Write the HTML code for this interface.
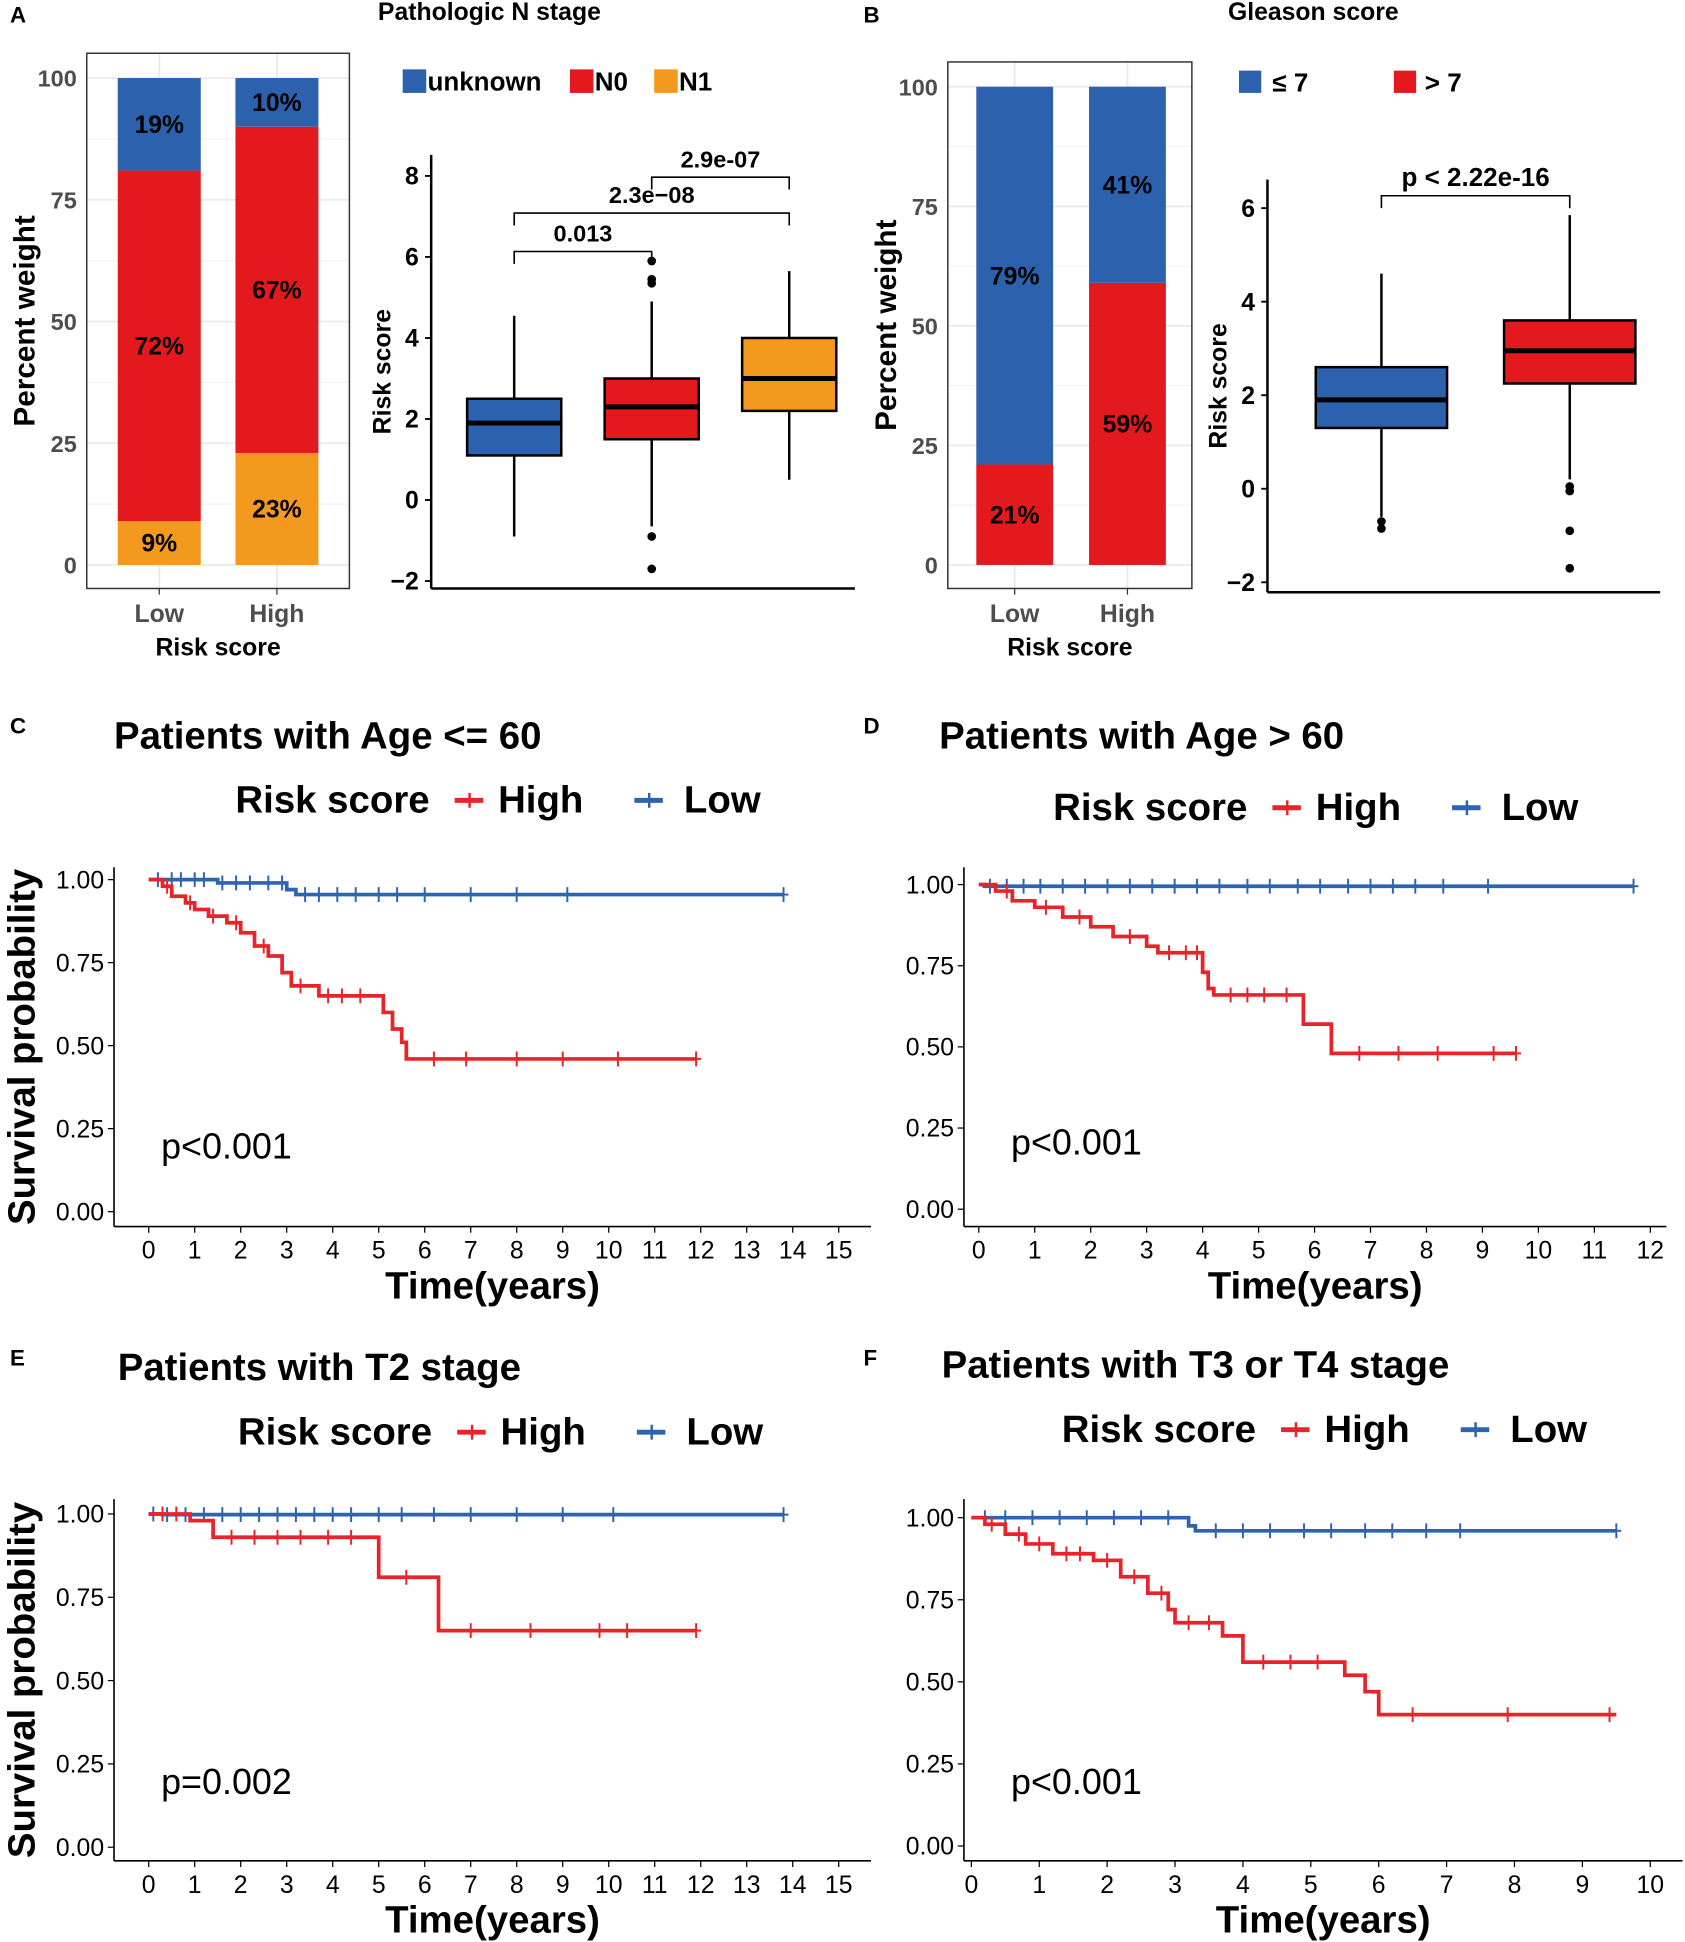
<!DOCTYPE html>
<html><head><meta charset="utf-8">
<style>
html,body{margin:0;padding:0;background:#fff;}
svg{display:block;font-family:"Liberation Sans",sans-serif;}
</style></head>
<body>
<svg id="fig" width="1685" height="1942" viewBox="0 0 1360 1567.5" xmlns="http://www.w3.org/2000/svg">
<g id="root"></g>
</svg>
<script>
// ---------- data ----------
const nStageGroups = ["Low","High"];
const nStageN1 = [9,23];
const nStageN0 = [72,67];
const nStageUnknown = [19,10];

const gleasonGroups = ["Low","High"];
const gleasonHigh = [21,59];
const gleasonLow = [79,41];

const boxA_names = ["unknown","N0","N1"];
const boxA_q1 = [1.1,1.5,2.2];
const boxA_med = [1.9,2.3,3.0];
const boxA_q3 = [2.5,3.0,4.0];
const boxA_lo = [-0.9,-0.65,0.5];
const boxA_hi = [4.55,4.9,5.65];
const boxA_out1 = [5.9,5.45,5.35,-0.9,-1.7];
const boxB_names = ["le7","gt7"];
const boxB_q1 = [1.3,2.25];
const boxB_med = [1.9,2.95];
const boxB_q3 = [2.6,3.6];
const boxB_lo = [-0.6,0.2];
const boxB_hi = [4.6,5.85];
const boxB_out0 = [-0.7,-0.85];
const boxB_out1 = [0.05,-0.05,-0.9,-1.7];

const kmC_highT = [0,0.3,0.5,0.8,1,1.3,1.7,2,2.3,2.6,2.9,3.1,3.7,5.1,5.3,5.5,5.6,11.9];
const kmC_highS = [1,0.98,0.95,0.93,0.91,0.89,0.87,0.84,0.80,0.77,0.72,0.68,0.65,0.60,0.55,0.51,0.46,0.46];
const kmC_lowT = [0,1.5,3.0,3.2,13.8];
const kmC_lowS = [1,0.99,0.97,0.955,0.955];
const kmC_highCens = [0.4,0.9,1.4,1.9,2.5,3.3,3.9,4.2,4.6,6.2,6.9,8,9,10.2,11.9];
const kmC_lowCens = [0.2,0.5,0.7,1.0,1.2,1.6,1.9,2.2,2.6,2.9,3.4,3.7,4.1,4.5,5,5.4,6,7,8,9.1,13.8];

const kmD_highT = [0,0.3,0.6,1,1.5,2,2.4,3,3.2,4,4.1,4.2,5.8,6.3,9.6];
const kmD_highS = [1,0.98,0.95,0.93,0.90,0.87,0.84,0.81,0.79,0.73,0.68,0.66,0.57,0.48,0.48];
const kmD_lowT = [0,0.1,11.7];
const kmD_lowS = [1,0.995,0.995];
const kmD_highCens = [0.5,1.2,1.8,2.7,3.4,3.7,3.9,4.5,4.8,5.1,5.5,6.8,7.5,8.2,9.2,9.6];
const kmD_lowCens = [0.2,0.5,0.8,1.1,1.5,1.9,2.3,2.7,3.1,3.5,3.9,4.3,4.8,5.2,5.7,6.1,6.6,7,7.4,7.8,8.3,9.1,11.7];

const kmE_highT = [0,0.9,1.4,5.0,6.3,11.9];
const kmE_highS = [1,0.98,0.93,0.81,0.65,0.65];
const kmE_lowT = [0,0.3,13.8];
const kmE_lowS = [1,0.998,0.998];
const kmE_highCens = [0.3,0.6,1.8,2.3,2.8,3.3,3.9,4.4,5.6,7,8.3,9.8,10.4,11.9];
const kmE_lowCens = [0.1,0.4,0.8,1.2,1.6,2,2.4,2.8,3.2,3.6,4,4.4,5,5.5,6.2,7,8,9,10.1,13.8];

const kmF_highT = [0,0.2,0.5,0.8,1.2,1.8,2.2,2.6,2.9,3.0,3.7,4.0,5.5,5.8,6.0,9.5];
const kmF_highS = [1,0.98,0.95,0.92,0.89,0.87,0.82,0.77,0.72,0.68,0.64,0.56,0.52,0.47,0.40,0.40];
const kmF_lowT = [0,3.2,3.3,9.5];
const kmF_lowS = [1,0.975,0.96,0.96];
const kmF_highCens = [0.3,0.7,1.0,1.4,1.6,2.0,2.4,2.8,3.2,3.5,4.3,4.7,5.1,6.5,7.9,9.4];
const kmF_lowCens = [0.2,0.5,0.9,1.3,1.7,2.1,2.5,2.9,3.6,4.0,4.4,4.9,5.3,5.8,6.2,6.7,7.2,9.5];

const BLUE="#2b61ad", RED="#e4191d", ORANGE="#f39a1e", KRED="#e8242a", KBLUE="#2e64ae";
const NS="http://www.w3.org/2000/svg";
const root=document.getElementById('root');
function el(tag,attrs,parent,txt){const e=document.createElementNS(NS,tag);for(const k in attrs)e.setAttribute(k,attrs[k]);if(txt!==undefined)e.textContent=txt;(parent||root).appendChild(e);return e;}
function T(x,y,s,size,anchor,fill,name,extra){const t=el('text',Object.assign({x:x,y:y,'font-size':size,'text-anchor':anchor||'start',fill:fill||'#000','font-weight':'bold'},extra||{}),root,s);

return t;}

// panel letters & titles
T(8,18,"A",18,'start','#000','panel-label-a');
T(395,16,"Pathologic N stage",20,'middle','#000','title-n-stage');
T(697,18,"B",18,'start','#000','panel-label-b');
T(1060,16,"Gleason score",20,'middle','#000','title-gleason');
T(8,592,"C",18,'start','#000','panel-label-c');
T(697,592,"D",18,'start','#000','panel-label-d');
T(8,1102,"E",18,'start','#000','panel-label-e');
T(697,1102,"F",18,'start','#000','panel-label-f');

// ---------- stacked bar chart ----------
function stacked(cfg){
  const {x0,x1,y0,y1,yTop,yBot,barX,barW,series,colors,labels,name}=cfg;
  const g=el('g',{});  
  const ys=v=>yBot-(yBot-yTop)*v/100;
  [0,25,50,75,100].forEach(v=>{el('line',{x1:x0,x2:x1,y1:ys(v),y2:ys(v),stroke:'#ebebeb','stroke-width':1.5},g);
    if(v<100)el('line',{x1:x0,x2:x1,y1:ys(v+12.5),y2:ys(v+12.5),stroke:'#f3f3f3','stroke-width':1},g);
    T(x0-8,ys(v)+7,String(v),19,'end','#4d4d4d','y-tick-label');});
  barX.forEach(bx=>el('line',{x1:bx+barW/2,x2:bx+barW/2,y1:y0,y2:y1,stroke:'#ebebeb','stroke-width':1.5},g));
  for(let i=0;i<barX.length;i++){
    let cum=0;
    series.forEach((s,si)=>{
      const r=el('rect',{x:barX[i],y:ys(cum+s[i]),width:barW,height:ys(cum)-ys(cum+s[i]),fill:colors[si]},g);
      
      
      T(barX[i]+barW/2,(ys(cum)+ys(cum+s[i]))/2+7,s[i]+"%",20,'middle','#000','bar-percent-label');
      cum+=s[i];
    });
    el('line',{x1:barX[i]+barW/2,x2:barX[i]+barW/2,y1:y1,y2:y1+5,stroke:'#333'},g);
    T(barX[i]+barW/2,y1+27,labels[i],20,'middle','#4d4d4d','x-tick-label');
  }
  el('rect',{x:x0,y:y0,width:x1-x0,height:y1-y0,fill:'none',stroke:'#333','stroke-width':1.2},g);
  T((x0+x1)/2,y1+54,"Risk score",20,'middle','#000','x-axis-title');
  T(0,0,"Percent weight",24,'middle','#000','y-axis-title',{transform:`translate(${x0-42},${(y0+y1)/2}) rotate(-90)`});
}
stacked({x0:70,x1:282,y0:43,y1:475,yTop:63,yBot:456,barX:[95,190],barW:67,series:[nStageN1,nStageN0,nStageUnknown],colors:[ORANGE,RED,BLUE],labels:nStageGroups,name:'n-stage-bar-chart'});
stacked({x0:765,x1:962,y0:50,y1:475,yTop:70,yBot:456,barX:[788,879],barW:62,series:[gleasonHigh,gleasonLow],colors:[RED,BLUE],labels:gleasonGroups,name:'gleason-bar-chart'});

// legends
function legSq(x,y,c,label,name){const r=el('rect',{x:x,y:y,width:19,height:19,fill:c});


T(x+20,y+17,label,21,'start','#000',name+'-label');}
legSq(325,56,BLUE,"unknown",'legend-unknown');legSq(460,56,RED,"N0",'legend-n0');legSq(528,56,ORANGE,"N1",'legend-n1');
el('rect',{x:1000,y:57,width:18,height:18,fill:BLUE});T(1027,74,"≤ 7",21,'start','#000','legend-le7');
el('rect',{x:1125,y:57,width:18,height:18,fill:RED});T(1150,74,"> 7",21,'start','#000','legend-gt7');

// ---------- boxplots ----------
function boxplot(cfg){
  const {ax,axTop,axBot,xEnd,vTop,yTopPx,vBot,yBotPx,ticks,centers,w,q1,med,q3,lo,hi,outs,colors,name}=cfg;
  const g=el('g',{});  
  const ys=v=>yBotPx-(yBotPx-yTopPx)*(v-vBot)/(vTop-vBot);
  el('line',{x1:ax,x2:ax,y1:axTop,y2:axBot,stroke:'#000','stroke-width':2},g);
  el('line',{x1:ax,x2:xEnd,y1:axBot,y2:axBot,stroke:'#000','stroke-width':2},g);
  ticks.forEach(v=>{el('line',{x1:ax-5,x2:ax,y1:ys(v),y2:ys(v),stroke:'#000','stroke-width':1.5},g);
    T(ax-10,ys(v)+7,String(v).replace('-','−'),20,'end','#000','y-tick-label');});
  T(0,0,"Risk score",20,'middle','#000','y-axis-title',{transform:`translate(${ax-33},${(axTop+axBot)/2}) rotate(-90)`});
  centers.forEach((c,i)=>{
    el('line',{x1:c,x2:c,y1:ys(hi[i]),y2:ys(lo[i]),stroke:'#000','stroke-width':2},g);
    const r=el('rect',{x:c-w/2,y:ys(q3[i]),width:w,height:ys(q1[i])-ys(q3[i]),fill:colors[i],stroke:'#000','stroke-width':2},g);
    
    
    el('line',{x1:c-w/2,x2:c+w/2,y1:ys(med[i]),y2:ys(med[i]),stroke:'#000','stroke-width':4},g);
    (outs[i]||[]).forEach(o=>el('circle',{cx:c,cy:ys(o),r:3.5,fill:'#000'},g));
  });
  return ys;
}
boxplot({ax:348,axTop:125,axBot:475,xEnd:690,vTop:8,yTopPx:142,vBot:-2,yBotPx:469,ticks:[-2,0,2,4,6,8],centers:[415,526,637],w:76,q1:boxA_q1,med:boxA_med,q3:boxA_q3,lo:boxA_lo,hi:boxA_hi,outs:[[],boxA_out1,[]],colors:[BLUE,RED,ORANGE],name:'n-stage-boxplot'});
boxplot({ax:1023,axTop:145,axBot:478,xEnd:1340,vTop:6,yTopPx:168,vBot:-2,yBotPx:470,ticks:[-2,0,2,4,6],centers:[1115,1267],w:106,q1:boxB_q1,med:boxB_med,q3:boxB_q3,lo:boxB_lo,hi:boxB_hi,outs:[boxB_out0,boxB_out1],colors:[BLUE,RED],name:'gleason-boxplot'});
function bracket(xa,xb,y,label,fs){el('path',{d:`M${xa},${y+10}V${y}H${xb}V${y+10}`,fill:'none',stroke:'#000','stroke-width':1.3});
T((xa+xb)/2,y-8,label,fs||19,'middle','#000','p-value-bracket-label');}
bracket(415,526,203,"0.013");bracket(415,637,172,"2.3e−08");bracket(526,637,143,"2.9e-07");
bracket(1115,1267,158,"p < 2.22e-16",21);

// ---------- KM plots ----------
function km(cfg){
  const {ax,axTop,axBot,xEnd,x0px,pxPerYear,maxTick,y1px,y0px,title,titleX,titleY,legY,legX,pText,pY,high,low,name,yTitle}=cfg;
  const g=el('g',{});  
  const xs=t=>x0px+t*pxPerYear, ys=s=>y0px-(y0px-y1px)*s;
  el('line',{x1:ax,x2:ax,y1:axTop,y2:axBot,stroke:'#000','stroke-width':1.3},g);
  el('line',{x1:ax,x2:xEnd,y1:axBot,y2:axBot,stroke:'#000','stroke-width':1.3},g);
  [0,0.25,0.5,0.75,1].forEach(v=>{el('line',{x1:ax-5,x2:ax,y1:ys(v),y2:ys(v),stroke:'#000'},g);
    T(ax-8,ys(v)+7,v.toFixed(2),20,'end','#000','y-tick-label',{'font-weight':'normal'});});
  for(let t=0;t<=maxTick;t++){el('line',{x1:xs(t),x2:xs(t),y1:axBot,y2:axBot+5,stroke:'#000'},g);
    T(xs(t),axBot+26,String(t),20,'middle','#000','x-tick-label',{'font-weight':'normal'});}
  T((ax+xEnd)/2,axBot+58,"Time(years)",31,'middle','#000','x-axis-title');
  if(yTitle)T(0,0,"Survival probability",31,'middle','#000','y-axis-title',{transform:`translate(${ax-64},${(axTop+axBot)/2}) rotate(-90)`});
  T(titleX,titleY,title,31,'start','#000','plot-title');
  T(legX,legY,"Risk score",31,'start','#000','legend-title');
  el('line',{x1:legX+177,x2:legX+200,y1:legY-10,y2:legY-10,stroke:KRED,'stroke-width':4});
  el('line',{x1:legX+189,x2:legX+189,y1:legY-16,y2:legY-4,stroke:KRED,'stroke-width':2});
  T(legX+212,legY,"High",31,'start','#000','legend-high');
  el('line',{x1:legX+322,x2:legX+345,y1:legY-10,y2:legY-10,stroke:KBLUE,'stroke-width':4});
  el('line',{x1:legX+334,x2:legX+334,y1:legY-16,y2:legY-4,stroke:KBLUE,'stroke-width':2});
  T(legX+362,legY,"Low",31,'start','#000','legend-low');
  T(ax+38,pY,pText,29,'start','#000','p-value',{'font-weight':'normal'});
  [[low,KBLUE,'low-risk-curve'],[high,KRED,'high-risk-curve']].forEach(([d,c,nm])=>{
    let p=`M${xs(d.t[0])},${ys(d.s[0])}`;
    for(let i=1;i<d.t.length;i++){p+=`H${xs(d.t[i])}V${ys(d.s[i])}`;}
    const path=el('path',{d:p,fill:'none',stroke:c,'stroke-width':3},g);
    
    
    d.c.forEach(ct=>{let s=d.s[0];for(let i=0;i<d.t.length;i++){if(d.t[i]<=ct)s=d.s[i];}
      el('line',{x1:xs(ct),x2:xs(ct),y1:ys(s)-6,y2:ys(s)+6,stroke:c,'stroke-width':1.6},g);
      el('line',{x1:xs(ct)-4,x2:xs(ct)+4,y1:ys(s),y2:ys(s),stroke:c,'stroke-width':1.6},g);});
  });
}
km({ax:92,axTop:700,axBot:990,xEnd:703,x0px:120,pxPerYear:37.13,maxTick:15,y1px:710,y0px:978,title:"Patients with Age <= 60",titleX:92,titleY:604,legY:656,legX:190,pText:"p<0.001",pY:935,yTitle:true,
  high:{t:kmC_highT,s:kmC_highS,c:kmC_highCens},low:{t:kmC_lowT,s:kmC_lowS,c:kmC_lowCens},name:'km-age-le60'});
km({ax:778,axTop:700,axBot:990,xEnd:1345,x0px:790,pxPerYear:45.17,maxTick:12,y1px:714,y0px:976,title:"Patients with Age > 60",titleX:758,titleY:604,legY:662,legX:850,pText:"p<0.001",pY:932,yTitle:false,
  high:{t:kmD_highT,s:kmD_highS,c:kmD_highCens},low:{t:kmD_lowT,s:kmD_lowS,c:kmD_lowCens},name:'km-age-gt60'});
km({ax:92,axTop:1210,axBot:1502,xEnd:703,x0px:120,pxPerYear:37.13,maxTick:15,y1px:1222,y0px:1491,title:"Patients with T2 stage",titleX:95,titleY:1114,legY:1166,legX:192,pText:"p=0.002",pY:1448,yTitle:true,
  high:{t:kmE_highT,s:kmE_highS,c:kmE_highCens},low:{t:kmE_lowT,s:kmE_lowS,c:kmE_lowCens},name:'km-t2'});
km({ax:778,axTop:1210,axBot:1502,xEnd:1358,x0px:784,pxPerYear:54.8,maxTick:10,y1px:1225,y0px:1490,title:"Patients with T3 or T4 stage",titleX:760,titleY:1112,legY:1164,legX:857,pText:"p<0.001",pY:1448,yTitle:false,
  high:{t:kmF_highT,s:kmF_highS,c:kmF_highCens},low:{t:kmF_lowT,s:kmF_lowS,c:kmF_lowCens},name:'km-t3t4'});
</script>
</body></html>
